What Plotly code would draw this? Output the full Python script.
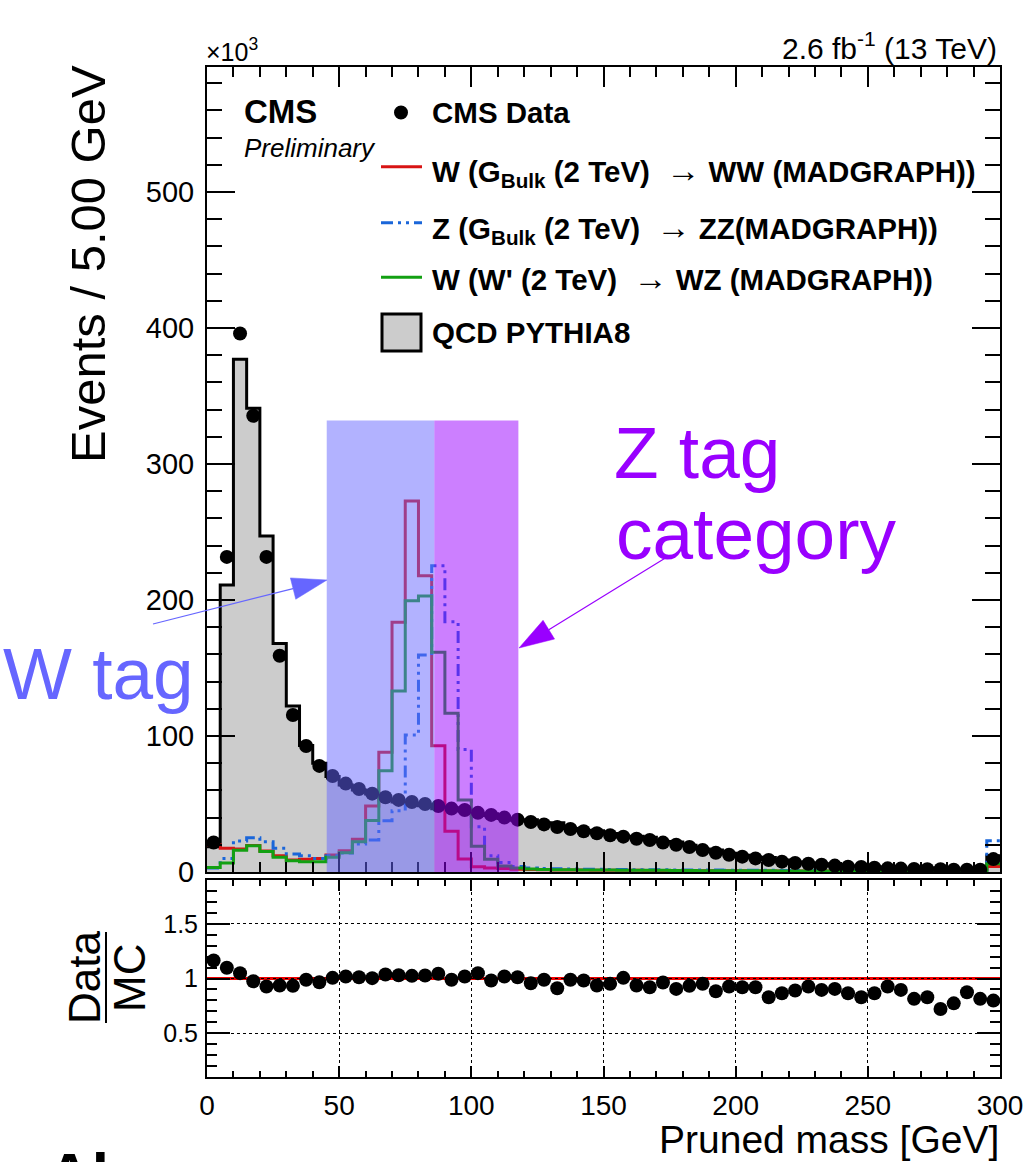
import numpy as np
import plotly.graph_objects as go

W, H = 1032, 1162
def px(x): return x / W
def py(y): return 1 - y / H

FONT = "Liberation Sans, Arial, Helvetica, sans-serif"

# ---------------- data (5 GeV bins, 0-300 GeV); main values in units of 10^3 events
bin_edges = np.arange(0, 305, 5)
bin_centers = bin_edges[:-1] + 2.5

data_k = [21.7, 231.7, 396, 335.5, 231.7, 159, 115.4, 92.6, 78, 70.6,
          65, 61, 57.6, 55, 53, 51.5, 50, 48.5, 46.6, 45.6,
          43.5, 42, 40, 38.5, 36.8, 35, 33, 31.6, 30, 28.5,
          27, 26, 24.5, 23.5, 21.6, 20, 18.4, 16.2, 14.2, 12.7,
          11.3, 10, 8.8, 7.6, 6.6, 6.1, 5.4, 4.7, 3.9, 3.7,
          3.2, 2.7, 2.5, 2.2, 2.0, 2.0, 1.7, 1.7, 1.7, 9.5]

qcd_k = [18.6, 211, 377, 341, 247, 168, 122, 93, 80, 70.2,
         63.9, 60.3, 57.4, 53, 51.5, 50.3, 48.7, 46.5, 47.2, 44.8,
         41.5, 42.8, 39.3, 38, 38.5, 35.4, 36.2, 32, 30.5, 30.4,
         28.4, 25.8, 26.2, 25.5, 22.4, 22.1, 19.7, 17, 16.1, 13.7,
         12.3, 10.9, 10.6, 8.8, 7.4, 6.6, 6.0, 5.2, 4.5, 4.5,
         3.7, 2.9, 2.8, 2.7, 2.4, 2.8, 2.2, 1.9, 2.1, 11.9]

sig_ww = [20, 17.4, 17, 19.5, 15.4, 12, 8.8, 9.3, 10, 12.5,
          15.7, 24, 48.5, 88, 183.6, 272.8, 217.9, 92.9, 30, 9.6,
          3.9, 3.0, 2.5, 2.0, 1.8, 1.6, 1.5, 1.5, 1.4, 1.3,
          1.3, 1.2, 1.2, 1.1, 1.1, 1.0, 1.0, 1.0, 0.9, 0.9,
          0.9, 0.8, 0.8, 0.8, 0.8, 0.7, 0.7, 0.7, 0.7, 0.6,
          0.6, 0.6, 0.6, 0.6, 0.5, 0.5, 0.5, 0.5, 0.5, 4.0]

sig_zz = [3, 10, 22.8, 25.2, 22.3, 17.4, 13.2, 12, 10, 12,
          14, 20.5, 23.5, 37.7, 45, 100.7, 159.6, 225.2, 184, 90,
          33.3, 12, 6.9, 4.0, 3.0, 2.6, 2.4, 2.2, 2.1, 2.0,
          1.9, 1.8, 1.7, 1.7, 1.6, 1.5, 1.5, 1.4, 1.4, 1.3,
          1.3, 1.2, 1.2, 1.1, 1.1, 1.1, 1.0, 1.0, 1.0, 0.9,
          0.9, 0.9, 0.9, 0.8, 0.8, 0.8, 0.8, 0.7, 0.7, 23]

sig_wz = [3.4, 6.6, 16, 19.3, 15, 10.8, 8.3, 7.6, 7.6, 10.8,
          14.2, 22.3, 37.8, 74.5, 133, 199.5, 203, 161.5, 116.7, 53,
          19, 9.3, 4.4, 3.0, 2.2, 1.9, 1.7, 1.6, 1.5, 1.4,
          1.4, 1.3, 1.3, 1.2, 1.2, 1.1, 1.1, 1.0, 1.0, 1.0,
          0.9, 0.9, 0.9, 0.8, 0.8, 0.8, 0.8, 0.7, 0.7, 0.7,
          0.7, 0.6, 0.6, 0.6, 0.6, 0.6, 0.5, 0.5, 0.5, 6.0]

ratio = [1.165, 1.098, 1.049, 0.975, 0.927, 0.936, 0.933, 0.988, 0.966, 1.006,
         1.018, 1.012, 1.003, 1.037, 1.030, 1.024, 1.027, 1.043, 0.988, 1.018,
         1.049, 0.982, 1.018, 1.012, 0.957, 0.988, 0.911, 0.988, 0.982, 0.936,
         0.951, 1.006, 0.936, 0.920, 0.963, 0.905, 0.933, 0.951, 0.884, 0.927,
         0.920, 0.920, 0.829, 0.865, 0.890, 0.927, 0.896, 0.905, 0.865, 0.829,
         0.865, 0.927, 0.896, 0.814, 0.829, 0.722, 0.773, 0.874, 0.814, 0.798]

w_tag_window = (45.3, 86.0)
z_tag_window = (86.0, 117.8)
window_top_k = 332

# ---------------- styles
C_RED = "#d81414"
C_BLUE = "#1a66d9"
C_GREEN = "#12a012"
C_WTAG = "#6666ff"
C_ZTAG = "#9900ff"
BLUE_DASH = "12px,5px,3px,5px,3px,5px"

XL, XR = 207, 1000
MAIN_TOP, MAIN_BOT = 67, 872
RAT_TOP, RAT_BOT = 880, 1077

fig = go.Figure()

def step(vals):
    return list(bin_edges), list(vals) + [vals[-1]]

x, y = step(qcd_k)
fig.add_trace(go.Scatter(x=x, y=y, mode="lines", line=dict(shape="hv", color="black", width=3),
                         fill="tozeroy", fillcolor="#cccccc", hoverinfo="skip", name="QCD PYTHIA8"))
for vals, col, dash, nm in [(sig_ww, C_RED, "solid", "WW"), (sig_zz, C_BLUE, BLUE_DASH, "ZZ"),
                            (sig_wz, C_GREEN, "solid", "WZ")]:
    x, y = step(vals)
    fig.add_trace(go.Scatter(x=x, y=y, mode="lines", name=nm,
                             line=dict(shape="hv", color=col, width=3, dash=dash)))
fig.add_trace(go.Scatter(x=bin_centers, y=data_k, mode="markers", name="CMS Data",
                         marker=dict(color="black", size=14)))
fig.add_trace(go.Scatter(x=bin_centers, y=ratio, mode="markers", xaxis="x2", yaxis="y2",
                         marker=dict(color="black", size=14), name="Data/MC"))

tick_common = dict(ticks="inside", tickcolor="black", tickwidth=2, showline=True, linecolor="black",
                   linewidth=2, mirror="allticks", zeroline=False, automargin=False)

fig.update_layout(
    width=W, height=H, margin=dict(l=0, r=0, t=0, b=0, autoexpand=False),
    paper_bgcolor="white", plot_bgcolor="white", showlegend=False,
    font=dict(family=FONT, color="black"),
    xaxis=dict(domain=[px(XL), px(XR)], range=[0, 300], anchor="y", showticklabels=False,
               ticklen=20, dtick=50, tick0=0, showgrid=False,
               minor=dict(dtick=10, ticklen=10, tickwidth=2, tickcolor="black", ticks="inside"),
               **tick_common),
    yaxis=dict(domain=[py(MAIN_BOT), py(MAIN_TOP)], range=[0, 591.9], anchor="x",
               ticklen=28, dtick=100, tick0=0, showgrid=False, ticklabelstandoff=5,
               tickfont=dict(family=FONT, size=29, color="black"),
               minor=dict(dtick=20, ticklen=15, tickwidth=2, tickcolor="black", ticks="inside"),
               **tick_common),
    xaxis2=dict(domain=[px(XL), px(XR)], range=[0, 300], anchor="y2",
                ticklen=11, dtick=50, tick0=0, showgrid=True, gridcolor="black", griddash="dot",
                gridwidth=1, ticklabelstandoff=2,
                tickfont=dict(family=FONT, size=28, color="black"),
                minor=dict(dtick=10, ticklen=6, tickwidth=2, tickcolor="black", ticks="inside"),
                **tick_common),
    yaxis2=dict(domain=[py(RAT_BOT), py(RAT_TOP)], range=[0.1, 1.9], anchor="x2",
                ticklen=23, dtick=0.5, tick0=0.5, showgrid=True, gridcolor="black", griddash="dot",
                gridwidth=1, ticklabelstandoff=2,
                tickfont=dict(family=FONT, size=25, color="black"),
                minor=dict(dtick=0.1, tick0=0.1, ticklen=10, tickwidth=2, tickcolor="black", ticks="inside"),
                **tick_common),
)

shapes = []
# ratio = 1 reference line
shapes.append(dict(type="line", xref="x2", yref="y2", x0=0, x1=300, y0=1, y1=1,
                   line=dict(color="#ee0000", width=3), layer="below"))
# tag windows
shapes.append(dict(type="rect", xref="x", yref="y", x0=w_tag_window[0], x1=w_tag_window[1],
                   y0=-3, y1=window_top_k, fillcolor="rgba(102,102,255,0.5)", line=dict(width=0), layer="above"))
shapes.append(dict(type="rect", xref="x", yref="y", x0=z_tag_window[0], x1=z_tag_window[1],
                   y0=-3, y1=window_top_k, fillcolor="rgba(153,0,255,0.5)", line=dict(width=0), layer="above"))

def arrow(tail, tip, color, head_len=35, head_w=22):
    t = np.array(tail, float); p = np.array(tip, float)
    u = (p - t) / np.linalg.norm(p - t)
    n = np.array([-u[1], u[0]])
    base = p - u * head_len
    a = base + n * head_w / 2; b = base - n * head_w / 2
    shapes.append(dict(type="line", xref="paper", yref="paper", x0=px(t[0]), y0=py(t[1]),
                       x1=px(base[0]), y1=py(base[1]), line=dict(color=color, width=1.2), layer="above"))
    path = f"M{px(p[0])},{py(p[1])} L{px(a[0])},{py(a[1])} L{px(b[0])},{py(b[1])} Z"
    shapes.append(dict(type="path", xref="paper", yref="paper", path=path, fillcolor=color,
                       line=dict(color=color, width=0.5), layer="above"))

arrow((153, 624), (327, 580), C_WTAG)
arrow((667, 557), (519, 648), C_ZTAG)

# legend symbols
LX0, LX1 = 381, 422
shapes.append(dict(type="circle", xref="paper", yref="paper", x0=px(394), x1=px(408),
                   y0=py(119.5), y1=py(105.5), fillcolor="black", line=dict(color="black", width=0), layer="above"))
for yy, col, dash in [(166.7, C_RED, "solid"), (222.7, C_BLUE, BLUE_DASH), (277.3, C_GREEN, "solid")]:
    shapes.append(dict(type="line", xref="paper", yref="paper", x0=px(LX0), x1=px(LX1), y0=py(yy), y1=py(yy),
                       line=dict(color=col, width=3, dash=dash), layer="above"))
shapes.append(dict(type="rect", xref="paper", yref="paper", x0=px(382), x1=px(421), y0=py(351), y1=py(314),
                   fillcolor="#cccccc", line=dict(color="black", width=3), layer="above"))
# Data/MC fraction bar
shapes.append(dict(type="line", xref="paper", yref="paper", x0=px(106), x1=px(106), y0=py(1023), y1=py(932),
                   line=dict(color="black", width=2), layer="above"))
fig.update_layout(shapes=shapes)

ann = []
def txt(text, x, y, size, xanchor="left", yanchor="middle", color="black", weight="normal",
        style="normal", angle=0):
    ann.append(dict(text=text, x=px(x), y=py(y), xref="paper", yref="paper", showarrow=False,
                    xanchor=xanchor, yanchor=yanchor, textangle=angle,
                    font=dict(family=FONT, size=size, color=color, weight=weight, style=style)))

ARR = '<span style="font-weight:normal;font-size:34px">→</span>'
txt("×10<sup>3</sup>", 204, 50, 25)
txt("2.6 fb<sup>-1</sup> (13 TeV)", 999, 46, 30, xanchor="right")
txt("CMS", 242, 112, 33, weight="bold")
txt("Preliminary", 242, 148, 26, style="italic")
txt("CMS Data", 430, 112.5, 29.5, weight="bold")
txt(f"W (G<sub>Bulk</sub> (2 TeV) &nbsp;{ARR} WW (MADGRAPH))", 430, 172, 29.5, weight="bold")
txt(f"Z (G<sub>Bulk</sub> (2 TeV) &nbsp;{ARR} ZZ(MADGRAPH))", 430, 228, 29.5, weight="bold")
txt(f"W (W' (2 TeV) &nbsp;{ARR} WZ (MADGRAPH))", 430, 277.5, 29.5, weight="bold")
txt("QCD PYTHIA8", 430, 332.5, 29.5, weight="bold")
txt("W tag", 1, 673, 73, color=C_WTAG)
txt("Z tag", 612, 452, 73, color=C_ZTAG)
txt("category", 614, 533, 73, color=C_ZTAG)
txt("Events / 5.00 GeV", 88, 63, 49, xanchor="center", yanchor="top", angle=-90)
txt("Data", 84, 978, 44, xanchor="center", angle=-90)
txt("MC", 129, 978, 44, xanchor="center", angle=-90)
txt("Pruned mass [GeV]", 1001, 1139, 39, xanchor="right")
txt("Al", 45, 1138, 62, yanchor="top", weight="bold")
fig.update_layout(annotations=ann)

fig.write_html("out.html")
